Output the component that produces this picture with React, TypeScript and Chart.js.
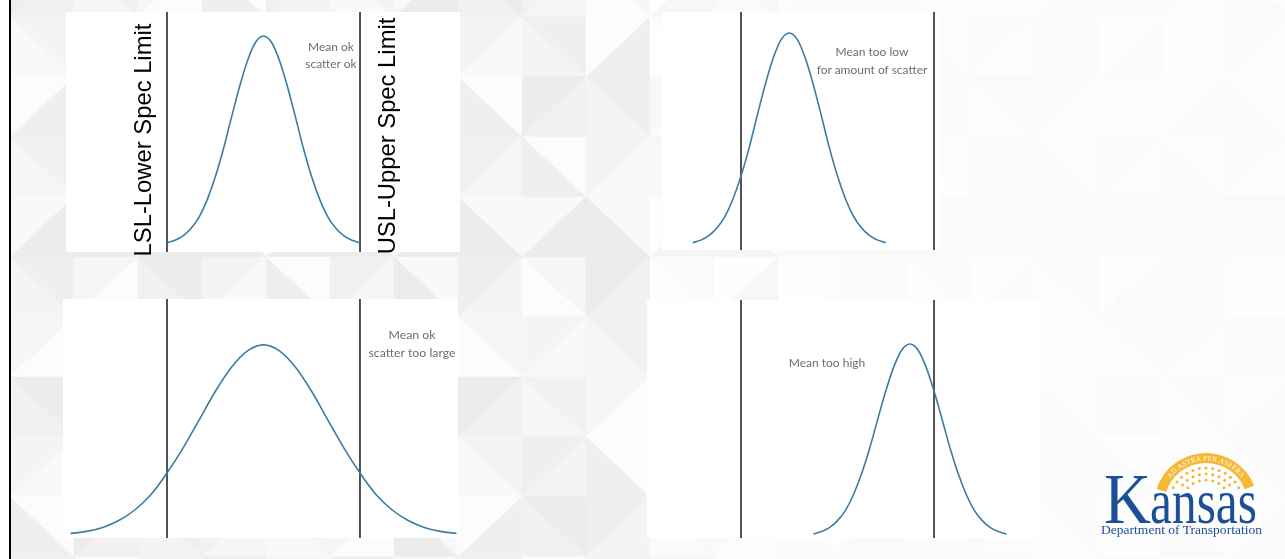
import React, { useEffect, useRef } from "react";
import { Chart, registerables } from "chart.js";

Chart.register(...registerables);

// ---- Data ----
const specLimits = [0, 100]; // LSL, USL (measurement units)

// Panel 1: mean ok, scatter ok
const p1X = [0, 4.2, 8.3, 12.5, 16.7, 20.8, 25, 29.2, 33.3, 37.5, 41.7, 45.8, 50, 54.2, 58.3, 62.5, 66.7, 70.8, 75, 79.2, 83.3, 87.5, 91.7, 95.8, 100];
const p1Y = [0.011, 0.023, 0.044, 0.08, 0.135, 0.216, 0.325, 0.458, 0.607, 0.755, 0.882, 0.969, 1.0, 0.969, 0.882, 0.755, 0.607, 0.458, 0.325, 0.216, 0.135, 0.08, 0.044, 0.023, 0.011];

// Panel 2: mean too low
const p2X = [-25, -20.8, -16.7, -12.5, -8.3, -4.2, 0, 4.2, 8.3, 12.5, 16.7, 20.8, 25, 29.2, 33.3, 37.5, 41.7, 45.8, 50, 54.2, 58.3, 62.5, 66.7, 70.8, 75];
const p2Y = [0.011, 0.023, 0.044, 0.08, 0.135, 0.216, 0.325, 0.458, 0.607, 0.755, 0.882, 0.969, 1.0, 0.969, 0.882, 0.755, 0.607, 0.458, 0.325, 0.216, 0.135, 0.08, 0.044, 0.023, 0.011];

// Panel 3: mean ok, scatter too large
const p3X = [-50, -41.7, -33.3, -25, -16.7, -8.3, 0, 8.3, 16.7, 25, 33.3, 41.7, 50, 58.3, 66.7, 75, 83.3, 91.7, 100, 108.3, 116.7, 125, 133.3, 141.7, 150];
const p3Y = [0.013, 0.024, 0.045, 0.081, 0.136, 0.217, 0.33, 0.46, 0.608, 0.756, 0.882, 0.969, 1.0, 0.969, 0.882, 0.756, 0.608, 0.46, 0.33, 0.217, 0.136, 0.081, 0.045, 0.024, 0.013];

// Panel 4: mean too high
const p4X = [37.5, 41.7, 45.8, 50, 54.2, 58.3, 62.5, 66.7, 70.8, 75, 79.2, 83.3, 87.5, 91.7, 95.8, 100, 104.2, 108.3, 112.5, 116.7, 120.8, 125, 129.2, 133.3, 137.5];
const p4Y = [0.011, 0.023, 0.044, 0.08, 0.135, 0.216, 0.325, 0.458, 0.607, 0.755, 0.882, 0.969, 1.0, 0.969, 0.882, 0.755, 0.607, 0.458, 0.325, 0.216, 0.135, 0.08, 0.044, 0.023, 0.011];

const CURVE_COLOR = "#3b7ca3";

type PanelCfg = {
  left: number; top: number; width: number; height: number;
  xMin: number; xMax: number; yMin: number; yMax: number;
  xs: number[]; ys: number[];
};

const panels: PanelCfg[] = [
  { left: 66, top: 12, width: 394, height: 240, xMin: -52.33, xMax: 151.8, yMin: -0.0335, yMax: 1.115, xs: p1X, ys: p1Y },
  { left: 662, top: 12, width: 278, height: 238, xMin: -40.93, xMax: 103.1, yMin: -0.0236, yMax: 1.099, xs: p2X, ys: p2Y },
  { left: 63, top: 299, width: 395, height: 239, xMin: -53.9, xMax: 150.8, yMin: -0.0105, yMax: 1.24, xs: p3X, ys: p3Y },
  { left: 647, top: 300, width: 393, height: 238, xMin: -48.7, xMax: 154.9, yMin: -0.0104, yMax: 1.229, xs: p4X, ys: p4Y },
];

function BellPanel({ cfg }: { cfg: PanelCfg }) {
  const ref = useRef<HTMLCanvasElement>(null);
  useEffect(() => {
    const chart = new Chart(ref.current as HTMLCanvasElement, {
      type: "line",
      data: {
        datasets: [
          {
            data: cfg.xs.map((x, i) => ({ x, y: cfg.ys[i] })),
            borderColor: CURVE_COLOR,
            borderWidth: 1.6,
            pointRadius: 0,
            cubicInterpolationMode: "monotone",
            fill: false,
          } as any,
          ...specLimits.map((s) => ({
            data: [{ x: s, y: cfg.yMin }, { x: s, y: cfg.yMax }],
            borderColor: "#0a0a0a",
            borderWidth: 1.4,
            pointRadius: 0,
            fill: false,
          })),
        ],
      },
      options: {
        animation: false,
        responsive: false,
        devicePixelRatio: 1,
        events: [],
        layout: { padding: 0 },
        plugins: { legend: { display: false }, tooltip: { enabled: false }, title: { display: false } },
        scales: {
          x: { type: "linear", min: cfg.xMin, max: cfg.xMax, display: false },
          y: { type: "linear", min: cfg.yMin, max: cfg.yMax, display: false },
        },
      },
    });
    return () => chart.destroy();
  }, [cfg]);
  return (
    <div style={{ position: "absolute", left: cfg.left, top: cfg.top, width: cfg.width, height: cfg.height, background: "#ffffff" }}>
      <canvas ref={ref} width={cfg.width} height={cfg.height} style={{ display: "block", width: cfg.width, height: cfg.height }} />
    </div>
  );
}

function Background() {
  const polys: JSX.Element[] = [];
  const cw = 64, ch = 60;
  for (let i = 0; i < 21; i++) {
    for (let j = 0; j < 11; j++) {
      const x0 = 10 + i * cw, y0 = -43 + j * ch;
      const flip = (i + j) % 2 === 0;
      const tris = flip
        ? [[[x0, y0], [x0 + cw, y0], [x0, y0 + ch]], [[x0 + cw, y0], [x0 + cw, y0 + ch], [x0, y0 + ch]]]
        : [[[x0, y0], [x0 + cw, y0], [x0 + cw, y0 + ch]], [[x0, y0], [x0 + cw, y0 + ch], [x0, y0 + ch]]];
      tris.forEach((t, k) => {
        const v = (i * 37 + j * 59 + k * 23 + i * j * 3) % 7;
        let g: number;
        if (x0 < 600) g = 236 + v * 2.6;
        else if (x0 < 720) g = 245 + v * 1.5;
        else g = 250 + (v % 5);
        g = Math.min(255, Math.round(g));
        const c = `rgb(${g},${g},${g})`;
        polys.push(
          <polygon key={`${i}-${j}-${k}`} points={t.map((p) => p.join(",")).join(" ")} fill={c} stroke={c} strokeWidth={0.6} />
        );
      });
    }
  }
  return (
    <svg width={1285} height={559} style={{ position: "absolute", left: 0, top: 0 }}>
      <rect x={0} y={0} width={1285} height={559} fill="#fafafa" />
      {polys}
      <rect x={0} y={0} width={9} height={559} fill="#ffffff" />
      <rect x={9} y={0} width={2} height={559} fill="#000000" />
    </svg>
  );
}

const noteStyle: React.CSSProperties = {
  position: "absolute",
  width: 200,
  textAlign: "center",
  color: "#6e6e6e",
  fontFamily: "Lato, 'Noto Sans', sans-serif",
  whiteSpace: "nowrap",
};

function Note({ cx, cy, size, lh, lines }: { cx: number; cy: number; size: number; lh: number; lines: string[] }) {
  const h = lh * lines.length;
  return (
    <div style={{ ...noteStyle, left: cx - 100, top: cy - h / 2, fontSize: size, lineHeight: `${lh}px` }}>
      {lines.map((l, i) => (
        <div key={i}>{l}</div>
      ))}
    </div>
  );
}

function RotLabel({ cx, cy, text }: { cx: number; cy: number; text: string }) {
  return (
    <div
      style={{
        position: "absolute",
        left: cx - 140,
        top: cy - 15,
        width: 280,
        height: 30,
        lineHeight: "30px",
        textAlign: "center",
        fontFamily: "'Liberation Sans', Arial, sans-serif",
        fontSize: 23.8,
        color: "#000",
        transform: "rotate(-90deg)",
        whiteSpace: "nowrap",
      }}
    >
      {text}
    </div>
  );
}

function Logo() {
  const cx = 1206, cy = 505;
  const pt = (r: number, deg: number) => [cx + r * Math.cos((deg * Math.PI) / 180), cy - r * Math.sin((deg * Math.PI) / 180)];
  const a1 = 162, a2 = 22;
  const ro = 52, ri = 42;
  const [o1x, o1y] = pt(ro, a1), [o2x, o2y] = pt(ro, a2), [i2x, i2y] = pt(ri, a2), [i1x, i1y] = pt(ri, a1);
  const band = `M ${o1x} ${o1y} A ${ro} ${ro} 0 0 1 ${o2x} ${o2y} L ${i2x} ${i2y} A ${ri} ${ri} 0 0 0 ${i1x} ${i1y} Z`;
  const [t1x, t1y] = pt(44.5, 160), [t2x, t2y] = pt(44.5, 20);
  const textPath = `M ${t1x} ${t1y} A 44.5 44.5 0 0 1 ${t2x} ${t2y}`;
  const stars: JSX.Element[] = [];
  const rows = [
    { r: 37, n: 13 },
    { r: 31, n: 11 },
    { r: 25, n: 9 },
  ];
  rows.forEach((row, ri2) => {
    for (let k = 0; k < row.n; k++) {
      const deg = 152 - (k * 124) / (row.n - 1);
      const [sx, sy] = pt(row.r, deg);
      if (sy < 488) stars.push(<circle key={`${ri2}-${k}`} cx={sx} cy={sy} r={1.5} fill="#f5b730" />);
    }
  });
  return (
    <svg width={1285} height={559} style={{ position: "absolute", left: 0, top: 0, pointerEvents: "none" }}>
      <defs>
        <path id="mottoPath" d={textPath} />
      </defs>
      <path d={band} fill="#f6b935" />
      <text fontFamily="'Liberation Serif', serif" fontSize={7} fill="#ffffff" letterSpacing={0.3}>
        <textPath href="#mottoPath" startOffset="50%" textAnchor="middle">AD ASTRA PER ASPERA</textPath>
      </text>
      {stars}
      <text x={1104} y={523} fontFamily="'Liberation Serif', serif" fontSize={72} fill="#1d4f98" textLength={47} lengthAdjust="spacingAndGlyphs">K</text>
      <text x={1150} y={523} fontFamily="'Liberation Serif', serif" fontSize={64} fill="#1d4f98" textLength={107} lengthAdjust="spacingAndGlyphs">ansas</text>
      <text x={1101} y={534} fontFamily="'Liberation Serif', serif" fontSize={12.5} fill="#1d4f98" textLength={161} lengthAdjust="spacingAndGlyphs">Department of Transportation</text>
    </svg>
  );
}

export default function App() {
  return (
    <div style={{ position: "fixed", left: 0, top: 0, width: 1285, height: 559, overflow: "hidden", background: "#fafafa" }}>
      <Background />
      {panels.map((p, i) => (
        <BellPanel key={i} cfg={p} />
      ))}
      <RotLabel cx={143} cy={140} text="LSL-Lower Spec Limit" />
      <RotLabel cx={387} cy={136} text="USL-Upper Spec Limit" />
      <Note cx={331} cy={55} size={12} lh={17} lines={["Mean ok", "scatter ok"]} />
      <Note cx={872} cy={61} size={12} lh={18} lines={["Mean too low", "for amount of scatter"]} />
      <Note cx={412} cy={344} size={12.3} lh={18} lines={["Mean ok", "scatter too large"]} />
      <Note cx={827} cy={363} size={12} lh={18} lines={["Mean too high"]} />
      <Logo />
    </div>
  );
}
